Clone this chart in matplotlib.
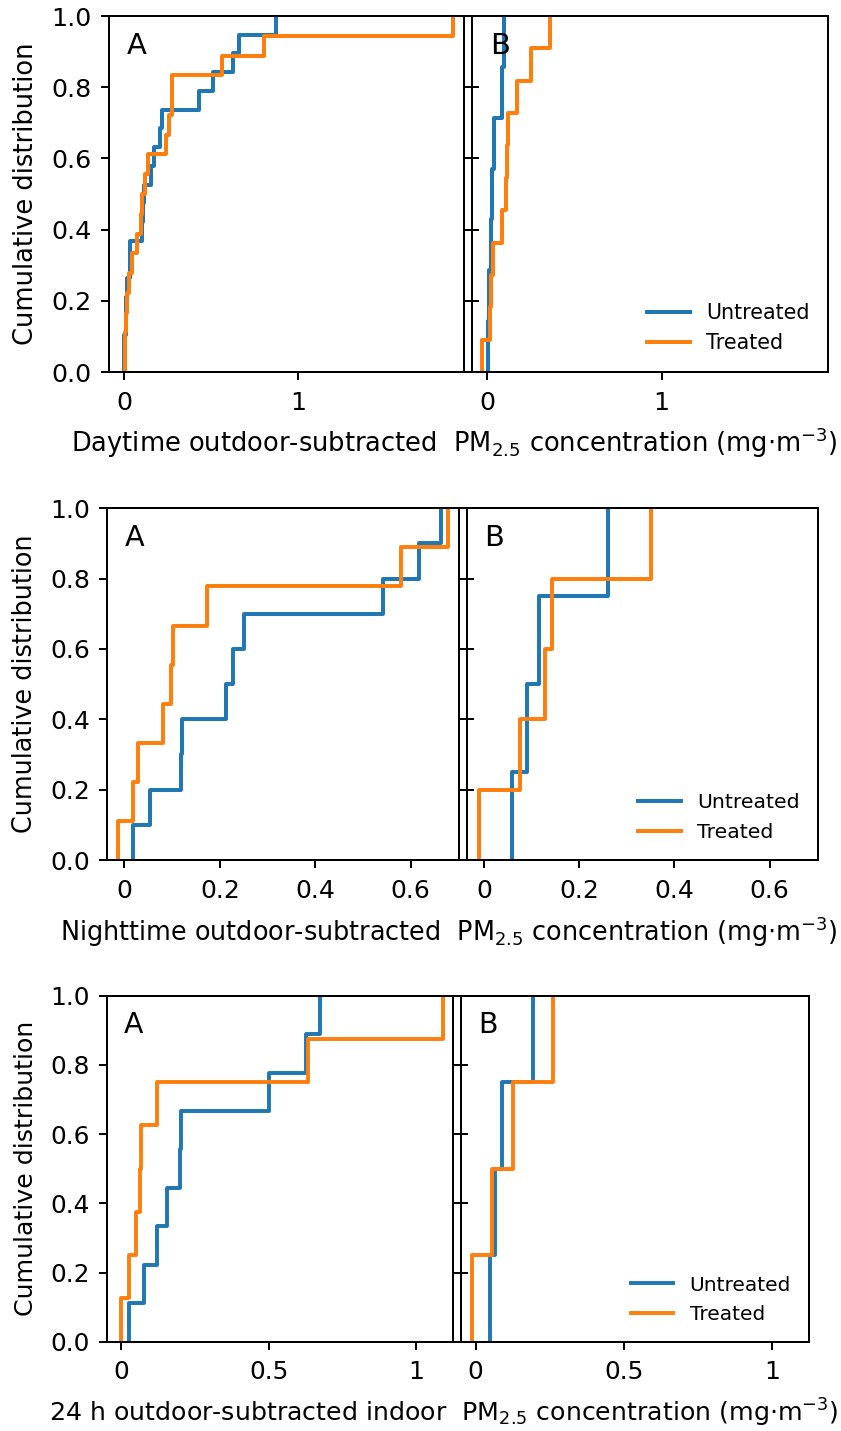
import numpy as np
import matplotlib
matplotlib.use("Agg")
import matplotlib.pyplot as plt

plt.rcParams['font.family'] = ['DejaVu Sans']
plt.rcParams['font.size'] = 12

# ---------------- data (sample values) ----------------
day_untreated_A = [0.000, 0.002, 0.008, 0.013, 0.017, 0.031, 0.036, 0.103, 0.109, 0.117,
                   0.157, 0.170, 0.208, 0.218, 0.432, 0.509, 0.629, 0.663, 0.872]
day_treated_A = [0.004, 0.007, 0.010, 0.017, 0.027, 0.046, 0.075, 0.095, 0.100, 0.118,
                 0.138, 0.238, 0.256, 0.273, 0.276, 0.562, 0.803, 1.889]
day_untreated_B = [0.004, 0.009, 0.019, 0.028, 0.036, 0.085, 0.095]
day_treated_B = [-0.032, 0.012, 0.019, 0.034, 0.081, 0.105, 0.110, 0.115, 0.172, 0.250, 0.358]

night_untreated_A = [0.018, 0.054, 0.118, 0.121, 0.213, 0.227, 0.250, 0.542, 0.617, 0.664]
night_treated_A = [-0.014, 0.018, 0.029, 0.080, 0.097, 0.101, 0.173, 0.579, 0.678]
night_untreated_B = [0.059, 0.091, 0.115, 0.260]
night_treated_B = [-0.010, 0.075, 0.129, 0.142, 0.351]

h24_untreated_A = [0.026, 0.076, 0.119, 0.156, 0.198, 0.201, 0.499, 0.625, 0.672]
h24_treated_A = [-0.003, 0.025, 0.049, 0.062, 0.066, 0.121, 0.633, 1.090]
h24_untreated_B = [0.048, 0.067, 0.090, 0.194]
h24_treated_B = [-0.013, 0.056, 0.127, 0.262]

series_names = ["Untreated", "Treated"]
panel_letters = ["A", "B"]
y_ticks = [0.0, 0.2, 0.4, 0.6, 0.8, 1.0]
y_tick_labels = ["0.0", "0.2", "0.4", "0.6", "0.8", "1.0"]

row_xticks = [[0, 1], [0, 0.2, 0.4, 0.6], [0, 0.5, 1]]
row_xtick_labels = [["0", "1"], ["0", "0.2", "0.4", "0.6"], ["0", "0.5", "1"]]
row_xlims = [(-0.087, 1.955), (-0.036, 0.702), (-0.05, 1.125)]
row_xlabels = [
    r"Daytime outdoor-subtracted  PM$_{2.5}$ concentration (mg$\cdot$m$^{-3}$)",
    r"Nighttime outdoor-subtracted  PM$_{2.5}$ concentration (mg$\cdot$m$^{-3}$)",
    r"24 h outdoor-subtracted indoor  PM$_{2.5}$ concentration (mg$\cdot$m$^{-3}$)",
]
row_data = [
    [(day_untreated_A, day_treated_A), (day_untreated_B, day_treated_B)],
    [(night_untreated_A, night_treated_A), (night_untreated_B, night_treated_B)],
    [(h24_untreated_A, h24_treated_A), (h24_untreated_B, h24_treated_B)],
]

colors = ["#1f77b4", "#ff7f0e"]

# ---------------- layout (pixel boxes: left, top, right, bottom) ----------------
W, H, DPI = 841, 1431, 144
row_boxes = [
    [(109, 16, 464, 372), (472.3, 16, 828.3, 372)],
    [(107.3, 508.3, 459.3, 860), (466.7, 508.3, 818.3, 860)],
    [(106.7, 995.7, 453.3, 1341.7), (460.7, 995.7, 809, 1341.7)],
]
row_scale = [1.0, 0.99, 0.977]
xlabel_baseline_px = [452, 941, 1422]
xlabel_right_px = 838

fig = plt.figure(figsize=(W / DPI, H / DPI), dpi=DPI)


def ecdf(values):
    v = np.sort(np.asarray(values, dtype=float))
    n = len(v)
    x = np.r_[v[0], v]
    y = np.r_[0.0, np.arange(1, n + 1) / n]
    return x, y


for r in range(3):
    sc = row_scale[r]
    for c in range(2):
        l, t, rr, b = row_boxes[r][c]
        ax = fig.add_axes([l / W, 1 - b / H, (rr - l) / W, (b - t) / H])
        for s in range(2):
            x, y = ecdf(row_data[r][c][s])
            ax.plot(x, y, drawstyle="steps-post", color=colors[s], lw=2 * sc,
                    label=series_names[s])
        ax.set_ylim(0, 1)
        ax.set_xlim(*row_xlims[r])
        ax.set_xticks(row_xticks[r])
        ax.set_xticklabels(row_xtick_labels[r])
        ax.set_yticks(y_ticks)
        ax.tick_params(axis="x", length=4 * sc, width=1, pad=5.5 * sc,
                       labelsize=12.7 * sc)
        if c == 0:
            ax.set_yticklabels(y_tick_labels)
            ax.tick_params(axis="y", length=4 * sc, width=1, pad=4.8 * sc,
                           labelsize=12.7 * sc)
            ax.set_ylabel("Cumulative distribution", fontsize=12.9 * sc,
                          labelpad=6 * sc)
        else:
            ax.set_yticklabels([])
            ax.tick_params(axis="y", direction="inout", length=7 * sc, width=1)
            ax.legend(loc="lower right", frameon=False, fontsize=10.3 * sc,
                      handlelength=2.1)
        for sp in ax.spines.values():
            sp.set_linewidth(1.0)
        ax.text(0.05, 0.955, panel_letters[c], transform=ax.transAxes,
                ha="left", va="top", fontsize=14.5 * sc)
    fig.text(xlabel_right_px / W, 1 - xlabel_baseline_px[r] / H, row_xlabels[r],
             ha="right", va="baseline", fontsize=12.9 * sc)

fig.savefig("out.png", dpi=DPI)
